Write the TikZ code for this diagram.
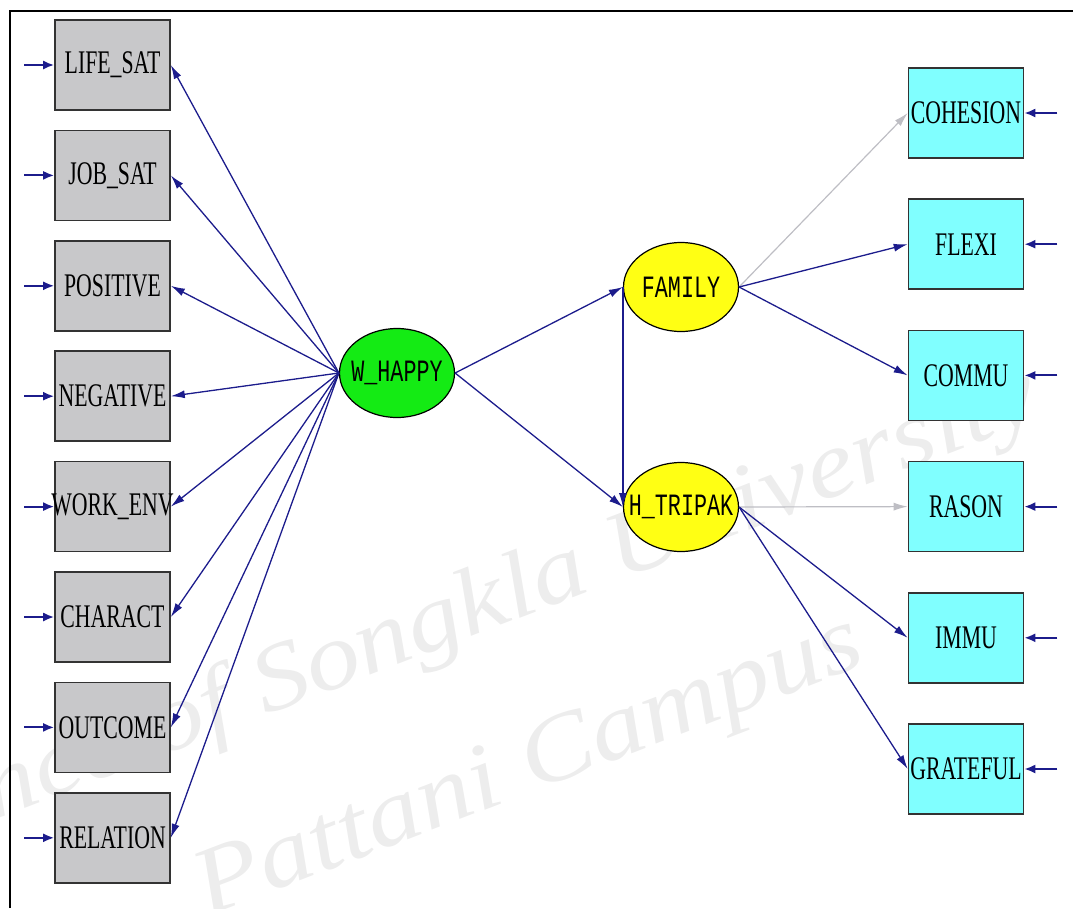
\documentclass[tikz,border=0pt]{standalone}
\usepackage{fontspec}
\setmainfont{Liberation Serif}
\newfontfamily\monof{Liberation Mono}
\usepackage{graphicx}
\usetikzlibrary{arrows.meta,calc,shapes.geometric}

\definecolor{navy}{RGB}{28,28,140}
\definecolor{obsgray}{RGB}{200,200,202}
\definecolor{obscyan}{RGB}{128,255,255}
\definecolor{latgreen}{RGB}{20,235,20}
\definecolor{latyellow}{RGB}{255,255,20}
\definecolor{weak}{RGB}{190,190,196}

% condensed labels for observed (box) and latent (ellipse) variables;
% zero-width boxes keep the shapes at their fixed sizes
\newcommand\boxlabel[1]{\makebox[0pt]{\scalebox{0.66}[1]{\fontsize{33}{33}\selectfont #1}}}
\newcommand\latlabel[1]{\makebox[0pt]{\scalebox{0.7}[1]{\monof\fontsize{31}{31}\selectfont #1}}}
\newcommand\wmtext[1]{\scalebox{1.15}[1]{#1}}

\tikzset{
  obs/.style={draw=black!80, line width=1.6pt, minimum width=115pt,
    minimum height=90pt, inner sep=0pt},
  obsL/.style={obs, fill=obsgray},
  obsR/.style={obs, fill=obscyan},
  lat/.style={ellipse, draw=black, line width=1.2pt, minimum width=115pt,
    minimum height=89pt, inner sep=0pt},
  path/.style={draw=navy, line width=1.3pt,
    -{Latex[length=14pt,width=8pt]}},
  weakpath/.style={draw=weak, line width=1.2pt,
    -{Latex[length=14pt,width=8pt]}},
  errarrow/.style={draw=navy, line width=2pt,
    -{Latex[length=11pt,width=9pt]}},
  wmark/.style={text=gray!14, font=\fontsize{95}{95}\selectfont\itshape,
    rotate=21, inner sep=0pt}
}

\begin{document}
\begin{tikzpicture}[x=1pt,y=-1pt]
\useasboundingbox (0,0) rectangle (1073,908);

% faint watermark lettering
\begin{scope}
  \clip (0,0) rectangle (1073,908);
  \node[wmark] (wmA) at (445,622) {\wmtext{Prince of Songkla University}};
  \node[wmark] (wmB) at (530,770) {\wmtext{Pattani Campus}};
\end{scope}

% frame
\draw[line width=2pt] (10,908) -- (10,11) -- (1073,11);

% observed variables on the left
\foreach \n/\t [count=\i from 0] in {ls/LIFE\_SAT, js/JOB\_SAT, po/POSITIVE,
    ne/NEGATIVE, we/WORK\_ENV, ch/CHARACT, ou/OUTCOME, re/RELATION}
{
  \node[obsL] (\n) at (112.5,{65+110.4*\i}) {\boxlabel{\t}};
  \coordinate (\n-e) at ($(\n.west)+(-30,0)$);
  \draw[errarrow] (\n-e) -- (\n.west);
}

% observed variables on the right
\foreach \n/\t [count=\i from 0] in {co/COHESION, fl/FLEXI, cm/COMMU,
    ra/RASON, im/IMMU, gr/GRATEFUL}
{
  \node[obsR] (\n) at (966,{113+131.2*\i}) {\boxlabel{\t}};
  \coordinate (\n-e) at ($(\n.east)+(33,0)$);
  \draw[errarrow] (\n-e) -- (\n.east);
}

% latent variables
\node[lat, fill=latgreen] (wh) at (397,373) {\latlabel{W\_HAPPY}};
\node[lat, fill=latyellow] (fa) at (681,287) {\latlabel{FAMILY}};
\node[lat, fill=latyellow] (ht) at (681,507) {\latlabel{H\_TRIPAK}};

% loadings of W_HAPPY
\foreach \n in {ls,js,po,ne,we,ch,ou,re}
  \draw[path] (wh.west) -- (\n.east);

% structural paths
\draw[path] (wh.east) -- (fa.west);
\draw[path] (wh.east) -- (ht.west);
\draw[path] (fa.west) -- (ht.west);

% loadings of FAMILY and H_TRIPAK
\draw[weakpath] (fa.east) -- (co.west);
\draw[path] (fa.east) -- (fl.west);
\draw[path] (fa.east) -- (cm.west);
\draw[weakpath] (ht.east) -- (ra.west);
\draw[path] (ht.east) -- (im.west);
\draw[path] (ht.east) -- (gr.west);
\end{tikzpicture}
\end{document}
